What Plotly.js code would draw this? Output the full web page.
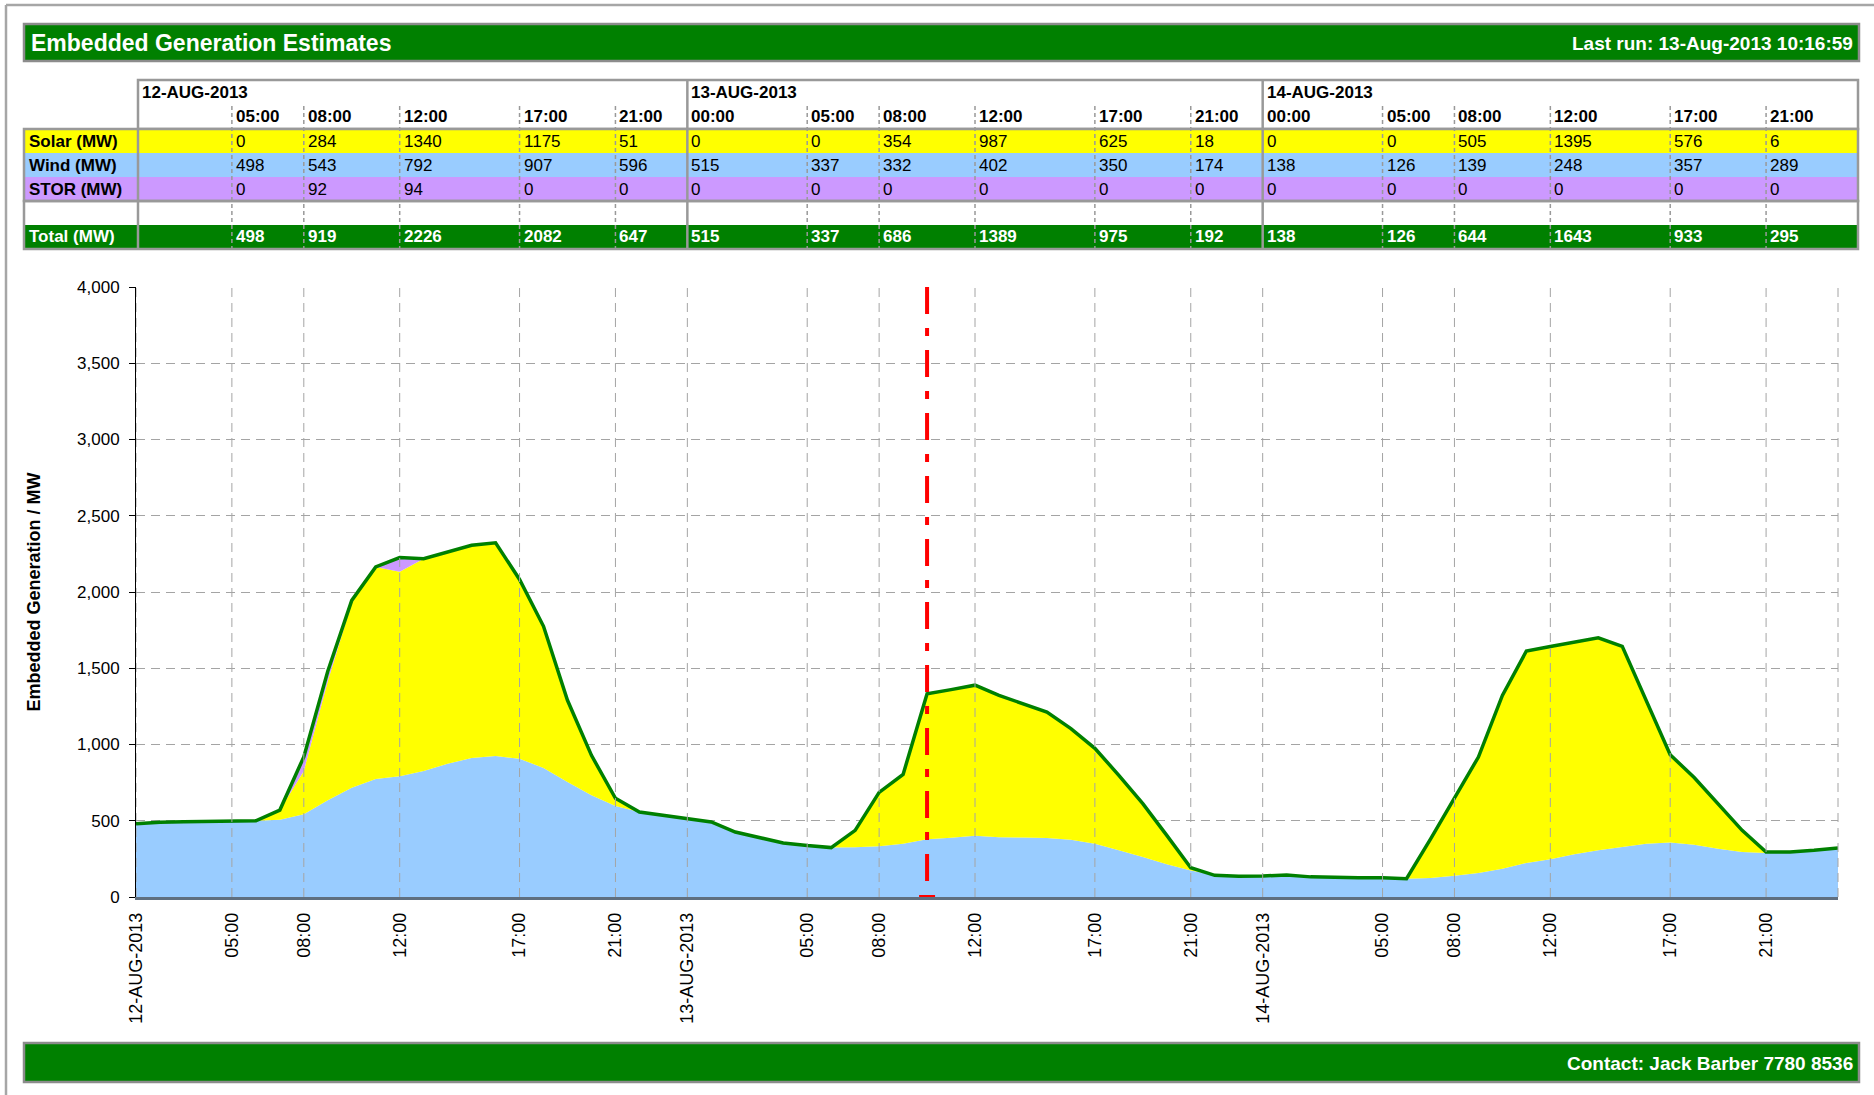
<!DOCTYPE html>
<html><head><meta charset="utf-8">
<script src="https://cdn.plot.ly/plotly-3.0.1.min.js"></script>
<style>html,body{margin:0;padding:0;background:#fff;} #chart{width:1874px;height:1095px;}</style>
</head><body><div id="chart"></div>
<script>
// ---------- hourly chart data (first point = 12-Aug-2013 01:00, last = 15-Aug-2013 00:00) ----------
const windMW = [
  480,490,494,496,498,500,507,543,634,717,774,792,826,874,911,924,907,846,754,667,596,557,535,
  515,492,426,389,354,337,324,326,332,350,378,389,402,392,390,387,376,350,306,262,214,174,142,136,
  138,144,132,127,127,126,120,124,139,157,186,223,248,280,306,328,350,357,343,317,295,289,295,306,
  321
];
const solarMW = [
  0,0,0,0,0,0,63,284,781,1213,1390,1340,1392,1388,1395,1399,1175,929,536,262,51,0,0,
  0,0,0,0,0,0,0,111,354,454,955,971,987,930,878,826,728,625,492,350,190,18,0,0,
  0,0,0,0,0,0,0,256,505,761,1136,1390,1395,1392,1394,1316,940,576,440,291,142,6,0,0,
  0
];
const storMW = [
  0,0,0,0,0,0,0,92,65,15,0,94,0,0,0,0,0,0,0,0,0,0,0,
  0,0,0,0,0,0,0,0,0,0,0,0,0,0,0,0,0,0,0,0,0,0,0,0,
  0,0,0,0,0,0,0,0,0,0,0,0,0,0,0,0,0,0,0,0,0,0,0,0,
  0
];
const lastRunTime = '2013-08-13 10:00';

// ---------- axis ticks ----------
const axisTickVals = ['2013-08-12 01:00','2013-08-12 05:00','2013-08-12 08:00','2013-08-12 12:00','2013-08-12 17:00','2013-08-12 21:00',
  '2013-08-13 00:00','2013-08-13 05:00','2013-08-13 08:00','2013-08-13 12:00','2013-08-13 17:00','2013-08-13 21:00',
  '2013-08-14 00:00','2013-08-14 05:00','2013-08-14 08:00','2013-08-14 12:00','2013-08-14 17:00','2013-08-14 21:00'];
const axisTickText = ['12-AUG-2013','05:00','08:00','12:00','17:00','21:00',
  '13-AUG-2013','05:00','08:00','12:00','17:00','21:00',
  '14-AUG-2013','05:00','08:00','12:00','17:00','21:00'];

// ---------- summary table ----------
const dayHeaders = ['12-AUG-2013','13-AUG-2013','14-AUG-2013'];
const dayHeaderPos = ['2013-08-12 01:00','2013-08-13 00:00','2013-08-14 00:00'];
const tableCols = ['2013-08-12 05:00','2013-08-12 08:00','2013-08-12 12:00','2013-08-12 17:00','2013-08-12 21:00',
  '2013-08-13 00:00','2013-08-13 05:00','2013-08-13 08:00','2013-08-13 12:00','2013-08-13 17:00','2013-08-13 21:00',
  '2013-08-14 00:00','2013-08-14 05:00','2013-08-14 08:00','2013-08-14 12:00','2013-08-14 17:00','2013-08-14 21:00'];
const tableTimes = ['05:00','08:00','12:00','17:00','21:00','00:00','05:00','08:00','12:00','17:00','21:00','00:00','05:00','08:00','12:00','17:00','21:00'];
const tableSolar = [0,284,1340,1175,51, 0,0,354,987,625,18, 0,0,505,1395,576,6];
const tableWind  = [498,543,792,907,596, 515,337,332,402,350,174, 138,126,139,248,357,289];
const tableStor  = [0,92,94,0,0, 0,0,0,0,0,0, 0,0,0,0,0,0];
const tableTotal = [498,919,2226,2082,647, 515,337,686,1389,975,192, 138,126,644,1643,933,295];

const titleText = 'Embedded Generation Estimates';
const lastRunText = 'Last run: 13-Aug-2013 10:16:59';
const contactText = 'Contact: Jack Barber 7780 8536';

// ---------- colours ----------
const GREEN = '#008000', SOLAR = '#ffff00', WIND = '#99ccff', STOR = '#cc99ff', BORDER = '#999999';
const GRID = '#a4a4a4';
const FONT = 'Arial, "Liberation Sans", sans-serif';

// ---------- geometry helpers (pixel -> paper) ----------
const W = 1874, H = 1095, ML = 136, MR = 36, MT = 287, MB = 198;
const PW = W - ML - MR, PH = H - MT - MB;
const fx = p => (p - ML) / PW;
const fy = p => (H - MB - p) / PH;

const hours = windMW.map((_, i) => new Date(Date.UTC(2013, 7, 12, 1 + i)).toISOString().slice(0, 16).replace('T', ' '));
const totalMW = windMW.map((w, i) => w + solarMW[i] + storMW[i]);

const traces = [
  {x: hours, y: windMW, type: 'scatter', mode: 'none', stackgroup: 'g', fillcolor: WIND, name: 'Wind (MW)', hoverinfo: 'skip'},
  {x: hours, y: solarMW, type: 'scatter', mode: 'none', stackgroup: 'g', fillcolor: SOLAR, name: 'Solar (MW)', hoverinfo: 'skip'},
  {x: hours, y: storMW, type: 'scatter', mode: 'none', stackgroup: 'g', fillcolor: STOR, name: 'STOR (MW)', hoverinfo: 'skip'},
  {x: hours, y: totalMW, type: 'scatter', mode: 'lines', line: {color: GREEN, width: 3.5}, name: 'Total (MW)', hoverinfo: 'skip'}
];

const shapes = [];
const annotations = [];
function rectP(x0, x1, y0, y1, fill, lineColor, lw) {
  shapes.push({type: 'rect', xref: 'paper', yref: 'paper', x0: fx(x0), x1: fx(x1), y0: fy(y1), y1: fy(y0),
    fillcolor: fill || 'rgba(0,0,0,0)', line: {color: lineColor || 'rgba(0,0,0,0)', width: lw || 0}});
}
function lineP(x0, y0, x1, y1, color, w, dash) {
  shapes.push({type: 'line', xref: 'paper', yref: 'paper', x0: fx(x0), y0: fy(y0), x1: fx(x1), y1: fy(y1),
    line: {color: color, width: w, dash: dash || 'solid'}});
}
function lineX(xv, y0, y1, color, w, dash) {
  shapes.push({type: 'line', xref: 'x', yref: 'paper', x0: xv, x1: xv, y0: fy(y0), y1: fy(y1),
    line: {color: color, width: w, dash: dash || 'solid'}});
}
function textAt(text, x, xref, yPix, opts) {
  opts = opts || {};
  annotations.push({text: text, x: xref === 'paper' ? fx(x) : x, xref: xref, y: fy(yPix), yref: 'paper',
    xanchor: opts.anchor || 'left', yanchor: 'middle', xshift: opts.shift || 0, showarrow: false,
    font: {family: FONT, size: opts.size || 17, color: opts.color || '#000000'}});
}

// page border
lineP(6, 5, 1874, 5, '#a6a6a6', 2.5);
lineP(6, 5, 6, 1095, '#a6a6a6', 2.5);

// title and footer bars
rectP(24, 1859, 24, 61, GREEN, '#8c8c8c', 2.5);
rectP(24, 1859, 1043, 1082, GREEN, '#8c8c8c', 2.5);
textAt('<b>' + titleText + '</b>', 29, 'paper', 43, {size: 23, color: '#ffffff'});
textAt('<b>' + lastRunText + '</b>', 1855, 'paper', 43, {size: 19, color: '#ffffff', anchor: 'right'});
textAt('<b>' + contactText + '</b>', 1855, 'paper', 1063, {size: 19, color: '#ffffff', anchor: 'right'});

// table backgrounds
rectP(138, 1858, 80, 129, '#ffffff', BORDER, 2.5);
rectP(24, 1858, 129, 153, SOLAR);
rectP(24, 1858, 153, 177, WIND);
rectP(24, 1858, 177, 201, STOR);
rectP(24, 1858, 201, 225, '#ffffff');
rectP(24, 1858, 225, 249, GREEN);
// dashed column separators
tableCols.forEach(c => {
  if (c.endsWith('00:00')) return;
  lineX(c, 106, 249, BORDER, 1.5, '4px,3px');
});
// solid day separators and borders
dayHeaderPos.slice(1).forEach(c => lineX(c, 80, 249, BORDER, 2.5));
rectP(24, 1858, 129, 201, null, BORDER, 2.5);
rectP(24, 1858, 201, 249, null, BORDER, 2.5);
lineP(138, 129, 138, 249, BORDER, 2.5);

// table texts
const rowY = {date: 92, time: 117, solar: 141, wind: 165, stor: 189, total: 237};
dayHeaders.forEach((d, i) => textAt('<b>' + d + '</b>', dayHeaderPos[i], 'x', rowY.date, {shift: i === 0 ? 4 : 2}));
textAt('<b>Solar (MW)</b>', 27, 'paper', rowY.solar);
textAt('<b>Wind (MW)</b>', 27, 'paper', rowY.wind);
textAt('<b>STOR (MW)</b>', 27, 'paper', rowY.stor);
textAt('<b>Total (MW)</b>', 27, 'paper', rowY.total, {color: '#ffffff'});
tableCols.forEach((c, i) => {
  textAt('<b>' + tableTimes[i] + '</b>', c, 'x', rowY.time, {shift: 2});
  textAt(String(tableSolar[i]), c, 'x', rowY.solar, {shift: 2});
  textAt(String(tableWind[i]), c, 'x', rowY.wind, {shift: 2});
  textAt(String(tableStor[i]), c, 'x', rowY.stor, {shift: 2});
  textAt('<b>' + tableTotal[i] + '</b>', c, 'x', rowY.total, {shift: 2, color: '#ffffff'});
});

// vertical category gridlines, drawn over the filled areas (as in the original)
axisTickVals.forEach(v => {
  shapes.push({type: 'line', xref: 'x', yref: 'y', x0: v, x1: v, y0: 0, y1: 4000, layer: 'above',
    line: {color: GRID, width: 1, dash: '9px,6px'}});
});
// right edge dashed border of plot area
shapes.push({type: 'line', xref: 'paper', yref: 'y', x0: 1, x1: 1, y0: 0, y1: 4000, layer: 'above',
  line: {color: GRID, width: 1, dash: '9px,6px'}});
// "last run" marker: dash-dot vertical line with a short bar on the axis
shapes.push({type: 'line', xref: 'x', yref: 'y', x0: lastRunTime, x1: lastRunTime, y0: 4000, y1: 0, layer: 'above',
  line: {color: '#ff0000', width: 4, dash: '27px,14px,8px,14px'}});
shapes.push({type: 'line', xref: 'x', yref: 'y', xsizemode: 'pixel', xanchor: lastRunTime, x0: -8, x1: 8, y0: 0, y1: 0,
  layer: 'above', line: {color: '#ff0000', width: 4}});

const layout = {
  width: W, height: H,
  margin: {l: ML, r: MR, t: MT, b: MB, pad: 0},
  paper_bgcolor: '#ffffff', plot_bgcolor: '#ffffff',
  showlegend: false,
  hovermode: false,
  font: {family: FONT, color: '#000000'},
  xaxis: {
    type: 'date', range: [hours[0], hours[hours.length - 1]],
    tickmode: 'array', tickvals: axisTickVals, ticktext: axisTickText,
    tickangle: -90, tickfont: {size: 18, family: FONT, color: '#000000'},
    ticks: '', ticklabelstandoff: 6,
    showgrid: false,
    showline: true, linecolor: '#5f6f80', linewidth: 2.5, zeroline: false, fixedrange: true
  },
  yaxis: {
    range: [0, 4000], dtick: 500, tick0: 0, tickformat: ',',
    tickfont: {size: 17, family: FONT, color: '#000000'},
    ticks: 'outside', ticklen: 6, tickcolor: '#000000', tickwidth: 1, ticklabelstandoff: 6,
    showgrid: true, gridcolor: GRID, gridwidth: 1, griddash: '9px,6px',
    showline: true, linecolor: '#000000', linewidth: 1, zeroline: false, fixedrange: true,
    title: {text: '<b>Embedded Generation / MW</b>', font: {size: 18, family: FONT, color: '#000000'}, standoff: 31}
  },
  shapes: shapes,
  annotations: annotations
};

Plotly.newPlot('chart', traces, layout, {staticPlot: true, displayModeBar: false});
</script>
</body></html>
